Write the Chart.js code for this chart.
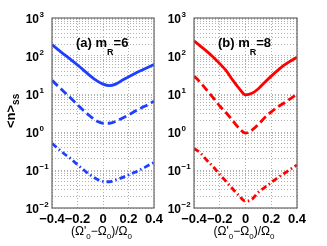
<!DOCTYPE html>
<html>
<head>
<meta charset="utf-8">
<script src="https://cdn.jsdelivr.net/npm/chart.js@4.4.1/dist/chart.umd.min.js"></script>
<style>
  html, body { margin: 0; padding: 0; background: #fff; }
  #wrap { position: relative; width: 327px; height: 246px; }
  #wrap canvas { position: absolute; left: 0; top: 0; }
</style>
</head>
<body>
<div id="wrap">
  <canvas id="panelA" width="327" height="246"></canvas>
  <canvas id="panelB" width="327" height="246"></canvas>
</div>
<script>
// detuning (Ω'0 − Ω0)/Ω0
const detuning = [-0.4, -0.35, -0.3, -0.25, -0.2, -0.15, -0.1, -0.05, 0, 0.05, 0.1, 0.15, 0.2, 0.25, 0.3, 0.35, 0.4];
const xTicks = [-0.4, -0.2, 0, 0.2, 0.4];
const yDecades = [-2, -1, 0, 1, 2, 3];

// (a) m_R = 6
const aSolid = [200, 145, 107, 79, 58, 42, 30, 22.4, 18.2, 16.6, 18.2, 22.9, 28.2, 34.7, 41.7, 50, 60];
const aDashed = [22.9, 15.8, 11.0, 7.6, 5.2, 3.6, 2.6, 1.95, 1.7, 1.7, 1.9, 2.3, 2.8, 3.5, 4.3, 5.2, 6.5];
const aDashDot = [0.5, 0.36, 0.26, 0.195, 0.138, 0.1, 0.074, 0.058, 0.05, 0.049, 0.055, 0.063, 0.074, 0.087, 0.105, 0.129, 0.158];

// (b) m_R = 8
const bSolid = [251, 182, 132, 93, 63, 41, 23.4, 14.1, 9.5, 10.4, 13.8, 20.4, 29.5, 41.7, 57.5, 74, 93];
const bDashed = [30, 20, 12.6, 7.9, 4.8, 3.2, 2.0, 1.26, 0.93, 1.12, 1.58, 2.4, 3.4, 4.6, 5.8, 7.6, 10];
const bDashDot = [0.37, 0.28, 0.18, 0.12, 0.076, 0.05, 0.032, 0.021, 0.015, 0.017, 0.026, 0.035, 0.047, 0.063, 0.081, 0.105, 0.135];

const FONT = "'Liberation Sans', Arial, Helvetica, sans-serif";
const W = 327;
const H = 246;

const logTicks = () => {
  const ticks = [];
  for (let k = -2; k < 3; k++) {
    for (let m = 1; m < 10; m++) ticks.push({ value: m * 10 ** k });
  }
  ticks.push({ value: 1000 });
  return ticks;
};

const fmtX = (v) => {
  if (Math.abs(v) < 1e-9) return '0';
  return (v < 0 ? '\u2212' : '') + Math.abs(v).toFixed(1);
};

// draw a run of text pieces (for sub/superscripts), left aligned
const drawParts = (ctx, x, y, parts) => {
  for (const [text, font, dy] of parts) {
    ctx.font = font;
    ctx.fillText(text, x, y + dy);
    x += ctx.measureText(text).width;
  }
  return x;
};

const partsWidth = (ctx, parts) =>
  parts.reduce((w, [text, font]) => {
    ctx.font = font;
    return w + ctx.measureText(text).width;
  }, 0);

const makeDataset = (values, color, dash) => ({
  data: detuning.map((x, i) => ({ x, y: values[i] })),
  borderColor: color,
  borderWidth: 2.8,
  borderDash: dash,
  pointRadius: 0,
  fill: false,
  cubicInterpolationMode: 'monotone',
});

const panelDecor = (letter, mr, showYTitle) => ({
  id: 'panelDecor',
  afterDraw(chart) {
    const { ctx, chartArea: a, scales } = chart;
    ctx.save();

    // frame
    ctx.strokeStyle = '#666';
    ctx.lineWidth = 1.2;
    ctx.setLineDash([]);
    ctx.strokeRect(a.left, a.top, a.right - a.left, a.bottom - a.top);

    ctx.fillStyle = '#000';
    ctx.textAlign = 'left';
    ctx.textBaseline = 'alphabetic';

    // y tick labels 10^k
    for (const k of yDecades) {
      const y = scales.y.getPixelForValue(10 ** k);
      ctx.font = `bold 12px ${FONT}`;
      const w = ctx.measureText('10').width;
      const x0 = a.left - 13 - w;
      ctx.fillText('10', x0, y + 5);
      ctx.font = `bold 8px ${FONT}`;
      ctx.fillText(k < 0 ? '\u2212' + -k : String(k), x0 + w + 0.5, y - 1);
    }

    // panel label
    drawParts(ctx, a.left + 24, 47, [
      [`(${letter}) m`, `bold 13px ${FONT}`, 0],
      ['R', `bold 9px ${FONT}`, 8],
      [`=${mr}`, `bold 13px ${FONT}`, 0],
    ]);

    // x title
    const xt = [
      ['(\u03A9\'', `12px ${FONT}`, 0],
      ['0', `8px ${FONT}`, 4],
      ['\u2212\u03A9', `12px ${FONT}`, 0],
      ['0', `8px ${FONT}`, 4],
      [')/\u03A9', `12px ${FONT}`, 0],
      ['0', `8px ${FONT}`, 4],
    ];
    const cx = (a.left + a.right) / 2 - 1.5;
    drawParts(ctx, cx - partsWidth(ctx, xt) / 2, 235, xt);

    // y title
    if (showYTitle) {
      ctx.translate(15, 128);
      ctx.rotate(-Math.PI / 2);
      drawParts(ctx, 0, 0, [
        ['<n>', `bold 13px ${FONT}`, 0],
        ['ss', `bold 10px ${FONT}`, 4],
      ]);
    }
    ctx.restore();
  },
});

const createPanel = (canvasId, series, color, area, decor) =>
  new Chart(document.getElementById(canvasId), {
    type: 'line',
    data: {
      datasets: [
        makeDataset(series[0], color, []),
        makeDataset(series[1], color, [8, 4]),
        makeDataset(series[2], color, [6, 3, 1.5, 3]),
      ],
    },
    options: {
      responsive: false,
      animation: false,
      events: [],
      layout: { padding: { top: area.top, right: W - area.right, left: 0, bottom: 0 } },
      plugins: { legend: { display: false }, tooltip: { enabled: false } },
      scales: {
        x: {
          type: 'linear',
          min: -0.4,
          max: 0.4,
          afterBuildTicks: (s) => {
            s.ticks = xTicks.map((v) => ({ value: v }));
          },
          afterFit: (s) => {
            s.height = H - area.bottom;
          },
          ticks: {
            padding: 4,
            color: '#000',
            autoSkip: false,
            maxRotation: 0,
            minRotation: 0,
            font: { family: FONT, size: 13, weight: 'bold' },
            callback: fmtX,
          },
          grid: { color: '#b0b0b0', lineWidth: 1, drawTicks: false },
          border: { display: false, dash: [1, 2] },
        },
        y: {
          type: 'logarithmic',
          min: 0.01,
          max: 1000,
          afterBuildTicks: (s) => {
            s.ticks = logTicks();
          },
          afterFit: (s) => {
            s.width = area.left;
          },
          ticks: { display: false },
          grid: { color: '#b0b0b0', lineWidth: 1, drawTicks: false },
          border: { display: false, dash: [1, 2] },
        },
      },
    },
    plugins: [decor],
  });

createPanel('panelA', [aSolid, aDashed, aDashDot], '#1f3fff',
  { left: 52, right: 154, top: 18, bottom: 208 }, panelDecor('a', 6, true));
createPanel('panelB', [bSolid, bDashed, bDashDot], '#ff0000',
  { left: 194, right: 297, top: 18, bottom: 208 }, panelDecor('b', 8, false));
</script>
</body>
</html>
